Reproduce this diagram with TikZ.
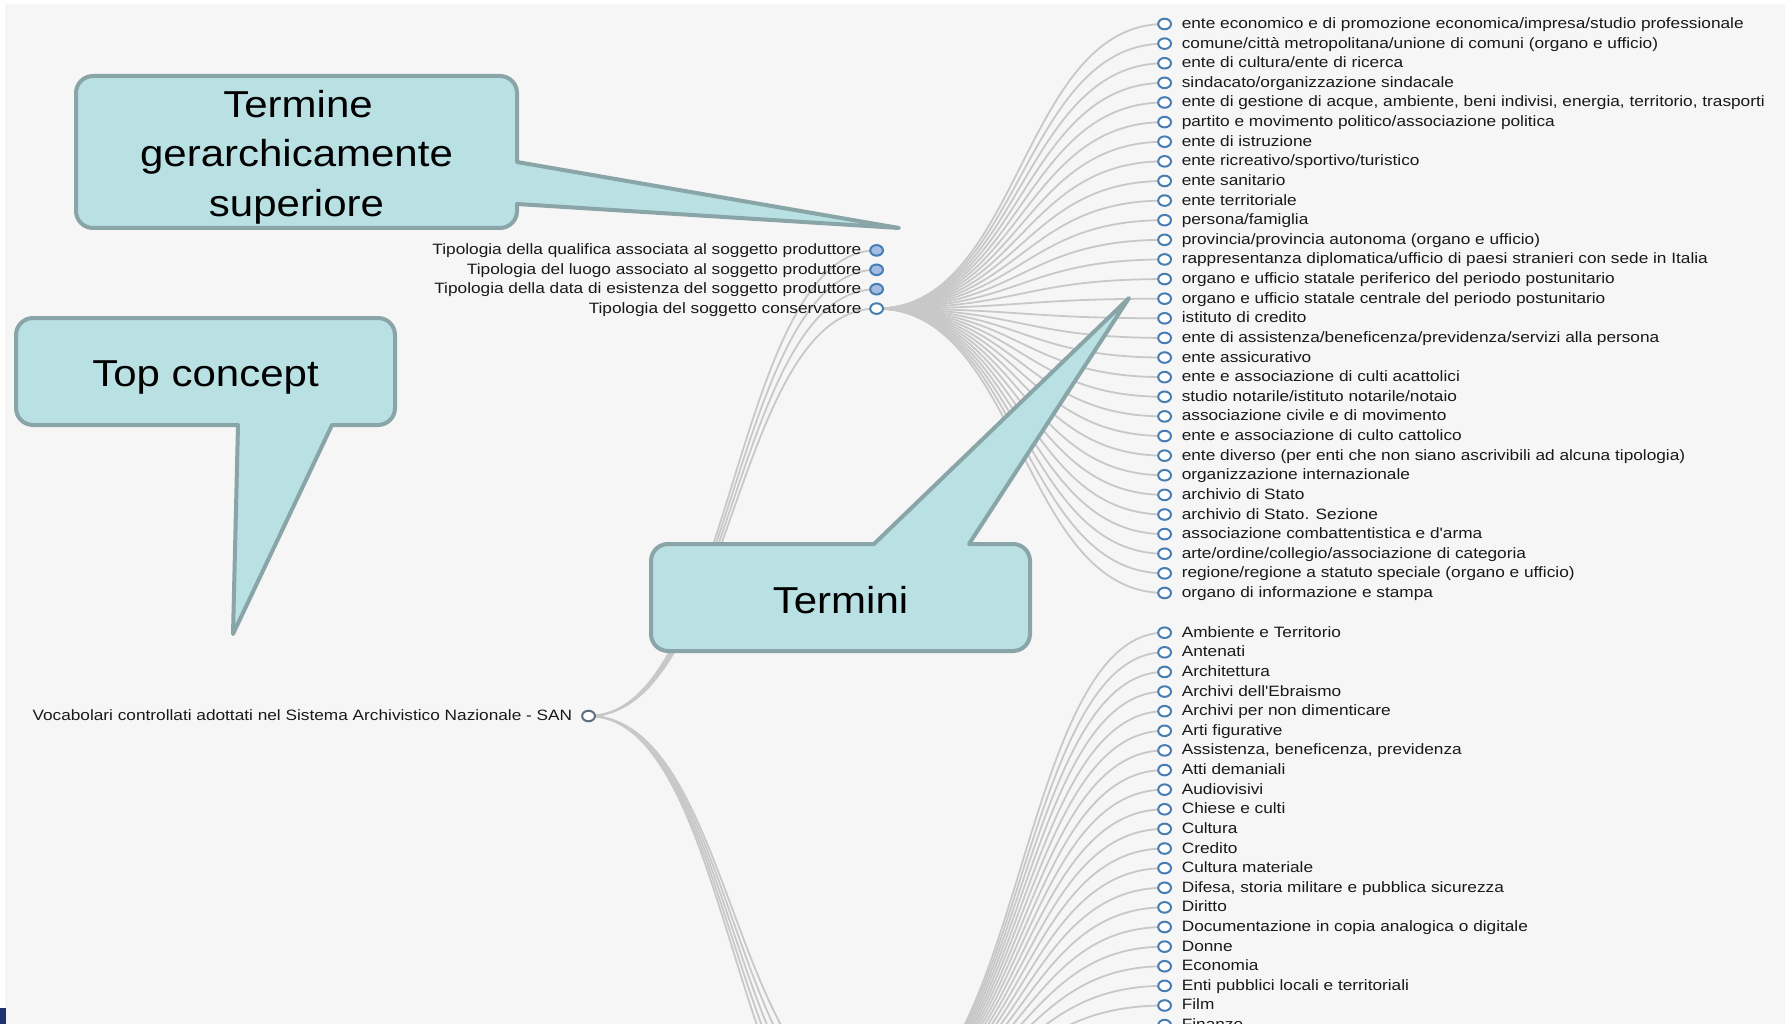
\documentclass[tikz,border=0pt]{standalone}
\usepackage{fontspec}
\setmainfont{Liberation Sans}
\newfontfamily\treefam[FakeStretch=1.15]{Liberation Sans}
\newfontfamily\calfam[FakeStretch=1.12]{Liberation Sans}
\usetikzlibrary{calc,shapes.geometric}
\pgfdeclarelayer{back}
\pgfdeclarelayer{links}
\pgfdeclarelayer{front}
\pgfsetlayers{back,links,main,front}
\definecolor{bgc}{RGB}{246,246,246}
\definecolor{linkc}{RGB}{200,200,200}
\definecolor{nodec}{RGB}{70,126,180}
\definecolor{colc}{RGB}{165,188,226}
\definecolor{rootc}{RGB}{95,110,125}
\definecolor{calfill}{RGB}{185,224,227}
\definecolor{caldraw}{RGB}{137,165,168}
\definecolor{txtc}{RGB}{25,25,25}
\definecolor{navyc}{RGB}{30,50,110}
\newcommand\treefont{\treefam\fontsize{15}{18}\selectfont}
\newcommand\calfont{\calfam\fontsize{37.5}{45}\selectfont}
\tikzset{
  tnode/.style={ellipse, draw=nodec, line width=2pt, fill=white, minimum width=12.8pt, minimum height=10.6pt, inner sep=0pt},
  cnode/.style={tnode, fill=colc},
  rnode/.style={tnode, draw=rootc},
  ltxt/.style={anchor=base west, text=txtc, font=\treefont, inner sep=0pt},
  rtxt/.style={anchor=base east, text=txtc, font=\treefont, inner sep=0pt},
  treelink/.style={draw=linkc, line width=1.8pt},
  callout/.style={fill=calfill, draw=caldraw, line width=4pt, line join=round},
  caltxt/.style={font=\calfont, anchor=base, text=black, inner sep=0pt},
}
\newcommand\dlink[2]{\draw[treelink] let \p1=(#1.center), \p2=(#2.center) in (\p1) .. controls ({(\x1+\x2)/2},\y1) and ({(\x1+\x2)/2},\y2) .. (\p2);}
\begin{document}
\begin{tikzpicture}[x=1pt,y=-1pt]
\useasboundingbox (0,0) rectangle (1785,1024);
\begin{pgfonlayer}{back}
\fill[white] (0,0) rectangle (1785,1024);
\fill[bgc] (5,4) rectangle (1785,1024);
\fill[navyc] (0,1008) rectangle (6,1024);
\end{pgfonlayer}

% root
\node[rnode] (root) at (588.5,716) {};
\node[rtxt] (roottxt) at (572.5,720.5) {Vocabolari controllati adottati nel Sistema Archivistico Nazionale - SAN};

% second level
\node[cnode] (qual) at (876.6,250.4) {};
\node[cnode] (luogo) at (876.6,269.8) {};
\node[cnode] (data) at (876.6,289.2) {};
\node[tnode] (cons) at (876.6,308.6) {};
\node[rtxt] (qualtxt) at (861.6,254.9) {Tipologia della qualifica associata al soggetto produttore};
\node[rtxt] (luogotxt) at (861.6,274.3) {Tipologia del luogo associato al soggetto produttore};
\node[rtxt] (datatxt) at (861.6,293.7) {Tipologia della data di esistenza del soggetto produttore};
\node[rtxt] (constxt) at (861.6,313.1) {Tipologia del soggetto conservatore};
\coordinate (p2) at (876.6,1103.2);
\coordinate (lc2) at (876.6,1122.8);
\coordinate (lc3) at (876.6,1142.4);
\coordinate (lc4) at (876.6,1162.0);
\coordinate (lc5) at (876.6,1181.6);

% list 1
\foreach \lbl [count=\i from 0] in {
 {ente economico e di promozione economica/impresa/studio professionale},
 {comune/città metropolitana/unione di comuni (organo e ufficio)},
 {ente di cultura/ente di ricerca},
 {sindacato/organizzazione sindacale},
 {ente di gestione di acque, ambiente, beni indivisi, energia, territorio, trasporti},
 {partito e movimento politico/associazione politica},
 {ente di istruzione},
 {ente ricreativo/sportivo/turistico},
 {ente sanitario},
 {ente territoriale},
 {persona/famiglia},
 {provincia/provincia autonoma (organo e ufficio)},
 {rappresentanza diplomatica/ufficio di paesi stranieri con sede in Italia},
 {organo e ufficio statale periferico del periodo postunitario},
 {organo e ufficio statale centrale del periodo postunitario},
 {istituto di credito},
 {ente di assistenza/beneficenza/previdenza/servizi alla persona},
 {ente assicurativo},
 {ente e associazione di culti acattolici},
 {studio notarile/istituto notarile/notaio},
 {associazione civile e di movimento},
 {ente e associazione di culto cattolico},
 {ente diverso (per enti che non siano ascrivibili ad alcuna tipologia)},
 {organizzazione internazionale},
 {archivio di Stato},
 {archivio di Stato. Sezione},
 {associazione combattentistica e d'arma},
 {arte/ordine/collegio/associazione di categoria},
 {regione/regione a statuto speciale (organo e ufficio)},
 {organo di informazione e stampa}} {
  \node[tnode] (a\i) at (1164.6,{24+19.62*\i}) {};
  \node[ltxt] (at\i) at (1181.6,{28.5+19.62*\i}) {\lbl};
}

% list 2
\foreach \lbl [count=\i from 0] in {
 {Ambiente e Territorio},
 {Antenati},
 {Architettura},
 {Archivi dell'Ebraismo},
 {Archivi per non dimenticare},
 {Arti figurative},
 {Assistenza, beneficenza, previdenza},
 {Atti demaniali},
 {Audiovisivi},
 {Chiese e culti},
 {Cultura},
 {Credito},
 {Cultura materiale},
 {Difesa, storia militare e pubblica sicurezza},
 {Diritto},
 {Documentazione in copia analogica o digitale},
 {Donne},
 {Economia},
 {Enti pubblici locali e territoriali},
 {Film},
 {Finanze}} {
  \node[tnode] (b\i) at (1164.6,{632.7+19.62*\i}) {};
  \node[ltxt] (bt\i) at (1181.6,{637.2+19.62*\i}) {\lbl};
}

% links
\begin{pgfonlayer}{links}
\dlink{root}{qual}
\dlink{root}{luogo}
\dlink{root}{data}
\dlink{root}{cons}
\dlink{root}{p2}
\dlink{root}{lc2}
\dlink{root}{lc3}
\dlink{root}{lc4}
\dlink{root}{lc5}
\foreach \i in {0,...,29} {\dlink{cons}{a\i}}
\foreach \i in {0,...,20} {\dlink{p2}{b\i}}
\end{pgfonlayer}

% callouts
\begin{pgfonlayer}{front}
\draw[callout] (93,76) -- (500,76) .. controls (509.4,76) and (517,83.6) .. (517,93) -- (517,162) -- (899,228) -- (517,204) -- (517,211) .. controls (517,220.4) and (509.4,228) .. (500,228) -- (93,228) .. controls (83.6,228) and (76,220.4) .. (76,211) -- (76,93) .. controls (76,83.6) and (83.6,76) .. (93,76) -- cycle;
\node[caltxt] (supertxt1) at (298,117.3) {Termine};
\node[caltxt] (supertxt2) at (296.5,167) {gerarchicamente};
\node[caltxt] (supertxt3) at (296.5,216.7) {superiore};

\draw[callout] (33,318) -- (378,318) .. controls (387.4,318) and (395,325.6) .. (395,335) -- (395,408) .. controls (395,417.4) and (387.4,425) .. (378,425) -- (332,425) -- (233,634) -- (238,425) -- (33,425) .. controls (23.6,425) and (16,417.4) .. (16,408) -- (16,335) .. controls (16,325.6) and (23.6,318) .. (33,318) -- cycle;
\node[caltxt] (toptxt) at (205.5,386) {Top concept};

\draw[callout] (668,544) -- (874,544) -- (1129,298) -- (969,544) -- (1013,544) .. controls (1022.4,544) and (1030,551.6) .. (1030,561) -- (1030,634) .. controls (1030,643.4) and (1022.4,651) .. (1013,651) -- (668,651) .. controls (658.6,651) and (651,643.4) .. (651,634) -- (651,561) .. controls (651,551.6) and (658.6,544) .. (668,544) -- cycle;
\node[caltxt] (termtxt) at (840.5,613) {Termini};
\end{pgfonlayer}
\end{tikzpicture}
\end{document}
